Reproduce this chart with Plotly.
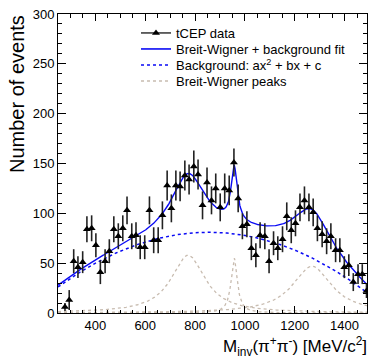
import numpy as np
import plotly.graph_objects as go

# ---- data ----
mass = [278, 295, 313, 330, 349, 366, 385, 402, 420, 439, 456, 474, 492, 510, 527, 546, 563, 580, 598, 617, 634, 652,
        669, 688, 705, 723, 740, 759, 776, 795, 812, 830, 848, 866, 883, 901, 919, 937, 956, 973, 990, 1008, 1026, 1044, 1061,
        1080, 1097, 1115, 1132, 1151, 1168, 1186, 1203, 1221, 1239, 1257, 1274, 1291, 1310, 1328, 1345, 1364, 1381, 1399,
        1417, 1435, 1454, 1471, 1488]
counts = [6, 13, 52, 46, 51, 84, 85, 68, 41, 52, 62, 84, 77, 85, 103, 77, 78, 66, 66, 103, 73, 73,
          98, 128, 105, 128, 127, 138, 134, 147, 139, 108, 131, 113, 125, 106, 125, 123, 151, 115, 87, 89, 65, 58, 78,
          77, 52, 70, 65, 74, 97, 83, 90, 106, 113, 106, 101, 85, 79, 72, 77, 63, 63, 46,
          48, 31, 39, 39, 22]
errors = [4, 10, 12, 11, 11, 13, 13, 12, 12, 12, 12, 13, 13, 13, 14, 13, 13, 12, 12, 14, 13, 13,
          14, 15, 14, 15, 15, 15, 15, 16, 15, 14, 15, 14, 15, 14, 15, 15, 14, 14, 13, 13, 12, 12, 13,
          13, 12, 12, 12, 13, 14, 13, 13, 14, 14, 14, 14, 13, 13, 13, 13, 12, 12, 11,
          11, 9, 10, 10, 7]

# fit parameters (background a x^2 + b x + c, Breit-Wigner peaks)
bg_a, bg_b, bg_c = -1.5e-4, 0.2565, -28.65
bw_mass = [772, 957, 1269]
bw_width = [165, 30, 190]
bw_height = [58, 55, 47]

legend_labels = ["tCEP data", "Breit-Wigner + background fit",
                 "Background: ax<sup>2</sup> + bx + c", "Breit-Wigner peaks"]

x_range = [250, 1490]

xf = np.linspace(x_range[0], x_range[1], 800)
bg = bg_a * xf**2 + bg_b * xf + bg_c
peaks = [h / (1 + (2 * (xf - m) / g) ** 2) for m, g, h in zip(bw_mass, bw_width, bw_height)]
total = bg + sum(peaks)

FONT = "Liberation Sans, Arial, sans-serif"
GRAY = "rgb(200,188,176)"
BLUE = "rgb(10,10,245)"

fig = go.Figure()

# Breit-Wigner peaks
for p in peaks:
    fig.add_trace(go.Scatter(x=xf, y=p, mode="lines", line=dict(color=GRAY, width=1.3, dash="dot"),
                             showlegend=False, hoverinfo="skip"))
# background
fig.add_trace(go.Scatter(x=xf, y=bg, mode="lines", line=dict(color=BLUE, width=1.5, dash="dot"),
                         showlegend=False, hoverinfo="skip"))
# total fit
fig.add_trace(go.Scatter(x=xf, y=total, mode="lines", line=dict(color=BLUE, width=1.4),
                         showlegend=False, hoverinfo="skip"))
# data
fig.add_trace(go.Scatter(x=mass, y=counts, mode="markers",
                         marker=dict(symbol="triangle-up", size=7, color="black"),
                         error_y=dict(type="data", array=errors, color="#222222", thickness=1.6, width=0),
                         showlegend=False))

# legend entries (one legend each, to control spacing)
leg_styles = [
    dict(mode="lines+markers", line=dict(color="black", width=1.2),
         marker=dict(symbol="triangle-up", size=7, color="black")),
    dict(mode="lines", line=dict(color=BLUE, width=1.6)),
    dict(mode="lines", line=dict(color=BLUE, width=1.6, dash="dot")),
    dict(mode="lines", line=dict(color=GRAY, width=1.6, dash="dot")),
]
leg_ids = ["legend", "legend2", "legend3", "legend4"]
for lab, st, lid in zip(legend_labels, leg_styles, leg_ids):
    fig.add_trace(go.Scatter(x=[None], y=[None], name=lab, legend=lid, showlegend=True, **st))

L, R, T, B = 58, 3, 14, 46
W, H = 370, 359
pw, ph = W - L - R, H - T - B

def px_x(p):
    return (p - L) / pw

def px_y(p):
    return (H - B - p) / ph

axis_common = dict(showline=True, linecolor="black", linewidth=1, mirror="ticks", ticks="inside",
                   tickcolor="black", tickwidth=1, showgrid=False, zeroline=False,
                   tickfont=dict(family=FONT, size=13, color="black"), automargin=False)

leg_common = dict(xanchor="left", yanchor="middle", font=dict(family=FONT, size=13, color="black"),
                  bgcolor="rgba(255,255,255,0)", itemwidth=30)
leg_y = [33, 49, 65, 81]

fig.update_layout(
    width=W, height=H,
    margin=dict(l=L, r=R, t=T, b=B, pad=0),
    paper_bgcolor="white", plot_bgcolor="white",
    font=dict(family=FONT, color="black"),
    xaxis=dict(range=x_range, dtick=200, tick0=0, ticklen=7,
               minor=dict(dtick=50, tick0=0, ticks="inside", ticklen=3.5, tickcolor="black"),
               **axis_common),
    yaxis=dict(range=[0, 300], dtick=50, ticklen=8,
               minor=dict(dtick=10, ticks="inside", ticklen=4, tickcolor="black"),
               **axis_common),
    showlegend=True,
    annotations=[
        dict(text="M<sub>inv</sub>(π<sup>+</sup>π<sup>-</sup>) [MeV/c<sup>2</sup>]",
             xref="paper", yref="paper", x=px_x(369), y=px_y(346), xanchor="right", yanchor="middle",
             showarrow=False, font=dict(family=FONT, size=17, color="black")),
        dict(text="Number of events", textangle=-90,
             xref="paper", yref="paper", x=px_x(17), y=px_y(13), xanchor="center", yanchor="top",
             showarrow=False, font=dict(family=FONT, size=20, color="black")),
    ],
)
for lid, yy in zip(leg_ids, leg_y):
    fig.update_layout({lid: dict(x=px_x(136), y=px_y(yy), **leg_common)})

fig.write_html("out.html")
